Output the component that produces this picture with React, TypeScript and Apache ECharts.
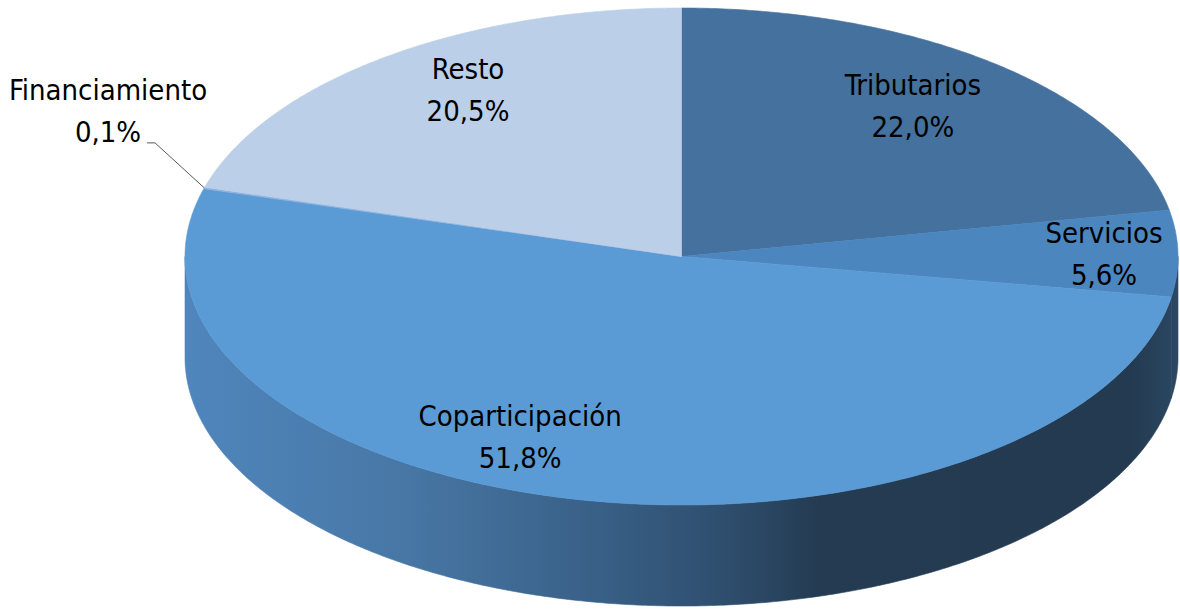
import React, { useEffect, useRef } from 'react';
import * as echarts from 'echarts';

// ---- data ----
const CATEGORIES = ['Tributarios', 'Servicios', 'Coparticipación', 'Financiamiento', 'Resto'];
const VALUES = [22.0, 5.6, 51.8, 0.1, 20.5];
const TOP_COLORS = ['#44719e', '#4b86bf', '#5b9bd5', '#8db3e0', '#bccfe8'];

// ---- layout (not data) ----
const CX = 681.5;
const CY = 256.5;
const RX = 496.5;
const RY = 248.5;
const DEPTH = 101;
// label anchors as fractions of the ellipse radii
const LABEL_ANCHORS: number[][] = [
  [0.466, -0.606],
  [0.851, -0.01],
  [-0.325, 0.726],
  [-1.155, -0.586],
  [-0.43, -0.67],
];
const FONT_FAMILY = '"DejaVu Sans Condensed", "DejaVu Sans", sans-serif';

const TOTAL = VALUES.reduce((a, b) => a + b, 0);
const STARTS: number[] = [];
{
  let acc = 0;
  for (const v of VALUES) {
    STARTS.push(acc);
    acc += v;
  }
}

function pt(theta: number, dy = 0): number[] {
  return [CX + RX * Math.sin(theta), CY - RY * Math.cos(theta) + dy];
}
function arc(a: number, b: number, dy: number): number[][] {
  const n = Math.max(2, Math.ceil(Math.abs(b - a) / (Math.PI / 360)));
  const pts: number[][] = [];
  for (let k = 0; k <= n; k++) pts.push(pt(a + ((b - a) * k) / n, dy));
  return pts;
}

const sideGradient = {
  type: 'linear',
  x: CX - RX,
  y: 0,
  x2: CX + RX,
  y2: 0,
  global: true,
  colorStops: [
    { offset: 0, color: '#4f86bd' },
    { offset: 0.22, color: '#4877a5' },
    { offset: 0.42, color: '#385f86' },
    { offset: 0.55, color: '#2e4d6c' },
    { offset: 0.64, color: '#243b52' },
    { offset: 0.95, color: '#233a50' },
    { offset: 1, color: '#2b4763' },
  ],
};

function fmt(v: number): string {
  return v.toFixed(1).replace('.', ',') + '%';
}

export default function App() {
  const ref = useRef<HTMLDivElement>(null);
  useEffect(() => {
    if (!ref.current) return;
    const chart = echarts.init(ref.current, null, { renderer: 'svg' });
    const data = VALUES.map((v, i) => ({ name: CATEGORIES[i], value: [STARTS[i], v] }));
    chart.setOption({
      animation: false,
      backgroundColor: '#ffffff',
      series: [
        {
          type: 'custom',
          coordinateSystem: 'none',
          silent: true,
          data,
          renderItem: (params: any, api: any) => {
            const i = params.dataIndex;
            const s = (api.value(0) / TOTAL) * Math.PI * 2;
            const e = ((api.value(0) + api.value(1)) / TOTAL) * Math.PI * 2;
            const children: any[] = [];
            const a = Math.max(s, Math.PI / 2);
            const b = Math.min(e, (Math.PI * 3) / 2);
            if (a < b) {
              const top = arc(a, b, 0);
              const bottom = arc(b, a, DEPTH);
              children.push({
                type: 'polygon',
                shape: { points: top.concat(bottom) },
                style: { fill: sideGradient, stroke: sideGradient, lineWidth: 0.6 },
              });
            }
            children.push({
              type: 'polygon',
              shape: { points: [[CX, CY]].concat(arc(s, e, 0)) },
              style: { fill: TOP_COLORS[i], stroke: TOP_COLORS[i], lineWidth: 0.6 },
            });
            return { type: 'group', children };
          },
        },
        {
          type: 'custom',
          coordinateSystem: 'none',
          silent: true,
          z: 5,
          data,
          renderItem: (params: any, api: any) => {
            const i = params.dataIndex;
            const v = api.value(1);
            const mid = ((api.value(0) + v / 2) / TOTAL) * Math.PI * 2;
            const [fx, fy] = LABEL_ANCHORS[i];
            const lx = CX + fx * RX;
            const ly = CY + fy * RY;
            const children: any[] = [
              {
                type: 'text',
                style: {
                  text: CATEGORIES[i] + '\n' + fmt(v),
                  x: lx,
                  y: ly,
                  fill: '#000000',
                  fontSize: 29,
                  fontFamily: FONT_FAMILY,
                  align: 'center',
                  verticalAlign: 'middle',
                  lineHeight: 42,
                },
              },
            ];
            if (Math.abs(fx) > 1) {
              const edge = pt(mid, 0);
              children.push({
                type: 'polyline',
                shape: {
                  points: [
                    [lx + 39, ly + 32],
                    [lx + 47, ly + 32],
                    edge,
                  ],
                },
                style: { stroke: '#595959', lineWidth: 1, fill: 'none' },
              });
            }
            return { type: 'group', children };
          },
        },
      ],
    });
    return () => chart.dispose();
  }, []);
  return (
    <div
      ref={ref}
      style={{ position: 'absolute', left: 0, top: 0, width: 1180, height: 610 }}
    />
  );
}
